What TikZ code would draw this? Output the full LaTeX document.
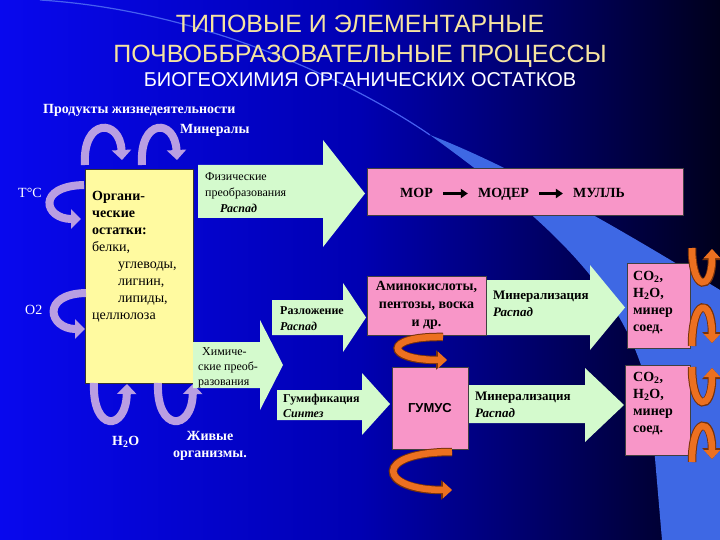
\documentclass[tikz,border=0pt]{standalone}
\usepackage{fontspec}
\setmainfont{Liberation Serif}
\newfontfamily\headfont{Liberation Sans}
\usetikzlibrary{arrows.meta}

\definecolor{bgleft}{RGB}{8,8,238}
\definecolor{bgmid}{RGB}{0,0,178}
\definecolor{bgright}{RGB}{0,0,28}
\definecolor{swoosh}{RGB}{62,104,228}
\definecolor{swooshline}{RGB}{70,95,240}
\definecolor{headyellow}{RGB}{246,228,160}
\definecolor{residue}{RGB}{255,250,160}
\definecolor{pinkbox}{RGB}{248,150,200}
\definecolor{mintgreen}{RGB}{212,250,205}
\definecolor{lilac}{RGB}{185,158,226}
\definecolor{rust}{RGB}{236,112,32}
\definecolor{rustdark}{RGB}{120,50,10}

\tikzset{
  lbl/.style={text=white, font=\fontsize{14}{17}\selectfont\bfseries, inner sep=0pt},
  boxtxt/.style={font=\fontsize{14}{17}\selectfont\bfseries, inner sep=0pt, align=left, anchor=north west},
  arrtxt/.style={font=\fontsize{12}{16}\selectfont, inner sep=0pt, align=left, anchor=north west},
  pink/.style={fill=pinkbox, draw=black!75, line width=0.6pt},
  lilacarrow/.style={draw=lilac, line width=8pt, -{Triangle[width=19pt,length=10pt]}},
  rustarrow/.style={draw=rust, line width=6.5pt, -{Triangle[width=16pt,length=9pt]},
    preaction={draw=rustdark, line width=8.5pt, -{Triangle[width=19pt,length=11pt]}}},
  flowarrow/.style={line width=3pt, -{Triangle[width=9pt,length=7pt]}},
  stage/.style={font=\fontsize{14}{17}\selectfont\bfseries, inner xsep=10pt, inner ysep=0pt,
    text height=9pt, text depth=0pt},
}

% green block arrow: left, top, right of body, bottom, head top, head bottom, tip
\newcommand\blockarrow[7]{%
  \fill[mintgreen] (#1,#2) -- (#3,#2) -- (#3,#5) -- (#7,{(#5+#6)/2}) -- (#3,#6)
    -- (#3,#4) -- (#1,#4) -- cycle;}

\begin{document}
\begin{tikzpicture}[x=1pt,y=-1pt]
    \useasboundingbox (0,0) rectangle (720,540);

    % Background
    \shade[left color=bgleft, right color=bgright, middle color=bgmid] (0,0) rectangle (720,540);
    \fill[swoosh] (430,135) .. controls (540,215) and (630,290) .. (650,400) -- (662,540)
        -- (720,540) -- (720,290) .. controls (630,235) and (520,170) .. (430,135) -- cycle;
    \draw[swooshline, line width=1.2pt] (40,0) .. controls (200,10) and (350,80) .. (430,135);

    % Headings
    \node[font=\headfont\fontsize{25}{30}\selectfont, text=headyellow, anchor=base] (title1)
        at (360,33) {ТИПОВЫЕ И ЭЛЕМЕНТАРНЫЕ};
    \node[font=\headfont\fontsize{25}{30}\selectfont, text=headyellow, anchor=base] (title2)
        at (360,63) {ПОЧВОББРАЗОВАТЕЛЬНЫЕ ПРОЦЕССЫ};
    \node[font=\headfont\fontsize{20}{24}\selectfont, text=white, anchor=base] (subtitle)
        at (360,87) {БИОГЕОХИМИЯ ОРГАНИЧЕСКИХ ОСТАТКОВ};

    % Organic residues
    \node[fill=residue, draw=black!80, line width=0.6pt, minimum width=108pt,
        minimum height=214pt] (residuebox) at (139,276) {};
    \node[font=\fontsize{14}{17}\selectfont, inner sep=0pt, align=left, anchor=north west]
        (residue) at (92,191) {\textbf{Органи-}\\ \textbf{ческие}\\ \textbf{остатки:}\\ белки,\\
        \hspace*{26pt}углеводы,\\ \hspace*{26pt}лигнин,\\ \hspace*{26pt}липиды,\\ целлюлоза};

    % Factors
    \node[lbl, anchor=base west] (products) at (43,114) {Продукты жизнедеятельности};
    \node[lbl, anchor=base west] (minerals) at (180,134) {Минералы};
    \node[lbl, font=\fontsize{14}{17}\selectfont, anchor=base west] (temp) at (18,197) {T°C};
    \node[lbl, font=\fontsize{14}{17}\selectfont, anchor=base west] (oxygen) at (25,314) {O2};
    \node[lbl, anchor=base west] (water) at (112,445) {H\textsubscript{2}O};
    \node[lbl, align=center, anchor=north] (organisms) at (210,431) {Живые\\организмы.};

    \draw[lilacarrow] (85,165) .. controls (82,118) and (120,118) .. (122,160);
    \draw[lilacarrow] (142,165) .. controls (139,118) and (175,118) .. (177,160);
    \draw[lilacarrow] (84,185) .. controls (36,186) and (44,219) .. (81,219);
    \draw[lilacarrow] (86,293) .. controls (40,294) and (49,329) .. (85,329);
    \draw[lilacarrow] (94,383) .. controls (92,432) and (126,432) .. (127,384);
    \draw[lilacarrow] (158,383) .. controls (156,432) and (192,432) .. (193,384);

    % Block arrows
    \blockarrow{198}{165}{323}{218}{140}{247}{365}
    \blockarrow{272}{300}{343}{335}{283}{352}{366}
    \blockarrow{193}{342}{260}{388}{320}{410}{283}
    \blockarrow{277}{390}{362}{420}{373}{435}{390}
    \blockarrow{486}{280}{590}{335}{265}{350}{625}
    \blockarrow{468}{385}{585}{423}{368}{442}{624}

    \node[arrtxt] (physical) at (205,172) {Физические\\преобразования\\
        \hspace*{15pt}\textbf{\textit{Распад}}};
    \node[arrtxt, font=\fontsize{12}{16}\selectfont\bfseries] (decay) at (280,306)
        {Разложение\\\textit{Распад}};
    \node[arrtxt, font=\fontsize{12}{15}\selectfont] (chemical) at (198,347)
        {\hspace*{4pt}Химиче-\\ские преоб-\\разования};
    \node[arrtxt, font=\fontsize{12}{15}\selectfont\bfseries] (humif) at (283,394)
        {Гумификация\\\textit{Синтез}};
    \node[arrtxt, font=\fontsize{13}{17}\selectfont\bfseries] (mineralA) at (493,291)
        {Минерализация\\\textit{Распад}};
    \node[arrtxt, font=\fontsize{13}{17}\selectfont\bfseries] (mineralB) at (475,392)
        {Минерализация\\\textit{Распад}};

    % Humus forms
    \node[pink, minimum width=316pt, minimum height=47pt] (formbox) at (525,191.5) {};
    \node[stage] (mor) at (416.5,193.5) {МОР};
    \node[stage] (moder) at (503.5,193.5) {МОДЕР};
    \node[stage] (mull) at (599,193.5) {МУЛЛЬ};
    \draw[flowarrow] (mor) -- (moder);
    \draw[flowarrow] (moder) -- (mull);

    % Products of decay
    \node[pink, minimum width=119pt, minimum height=59pt, align=center,
        font=\fontsize{14}{18}\selectfont\bfseries] (amino) at (426.5,305.5)
        {Аминокислоты,\\пентозы, воска\\и др.};
    \node[pink, minimum width=76pt, minimum height=82pt,
        font=\headfont\fontsize{13}{16}\selectfont\bfseries] (humus) at (430,408) {ГУМУС};
    \node[pink, minimum width=63pt, minimum height=85pt] (mineralboxA) at (658.5,305.5) {};
    \node[pink, minimum width=65pt, minimum height=90pt] (mineralboxB) at (657.5,410) {};
    \node[boxtxt] (co2A) at (633,271) {CO\textsubscript{2},\\H\textsubscript{2}O,\\минер\\соед.};
    \node[boxtxt] (co2B) at (633,372) {CO\textsubscript{2},\\H\textsubscript{2}O,\\минер\\соед.};

    % Cycling
    \draw[rustarrow] (443,337) .. controls (382,336) and (385,360) .. (447,360);
    \draw[rustarrow] (452,452) .. controls (372,452) and (378,490) .. (452,490);
    \draw[rustarrow] (692,248) .. controls (692,292) and (712,292) .. (712,249);
    \draw[rustarrow] (692,346) .. controls (692,297) and (712,297) .. (712,343);
    \draw[rustarrow] (692,367) .. controls (692,412) and (712,412) .. (712,368);
    \draw[rustarrow] (692,462) .. controls (692,416) and (712,416) .. (712,459);

\end{tikzpicture}
\end{document}
